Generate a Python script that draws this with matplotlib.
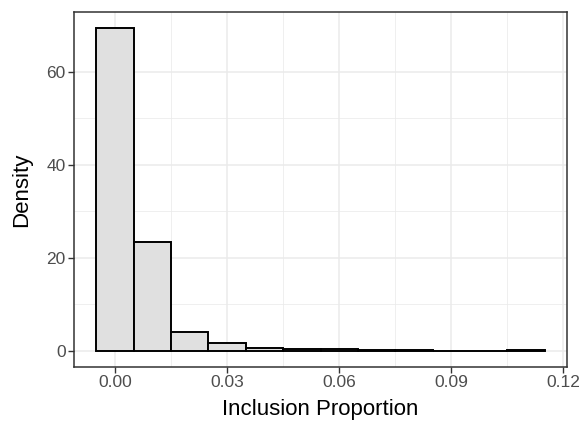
import numpy as np
import matplotlib
matplotlib.use('Agg')
import matplotlib.pyplot as plt

plt.rcParams['font.family'] = ['Liberation Sans', 'DejaVu Sans']

# histogram bins (width 0.01, centred on multiples of 0.01)
bin_centres = [0.00, 0.01, 0.02, 0.03, 0.04, 0.05, 0.06, 0.07, 0.08, 0.09, 0.10, 0.11]
density = [69.4, 23.4, 4.0, 1.65, 0.7, 0.3, 0.3, 0.15, 0.15, 0.05, 0.05, 0.2]
bin_width = 0.01

x_ticks = [0.00, 0.03, 0.06, 0.09, 0.12]
x_tick_labels = ['0.00', '0.03', '0.06', '0.09', '0.12']
y_ticks = [0, 20, 40, 60]

fig = plt.figure(figsize=(5.82, 4.23), dpi=100)
ax = fig.add_axes([74/582, 1 - 367/423, 493/582, 355/423])

ax.bar(bin_centres, density, width=bin_width, color='#e0e0e0',
       edgecolor='black', linewidth=1.4, zorder=3)

ax.set_xlim(-0.011, 0.121)
ax.set_ylim(-3.47, 72.9)

ax.set_xticks(x_ticks)
ax.set_xticklabels(x_tick_labels)
ax.set_yticks(y_ticks)
ax.set_xticks([0.015, 0.045, 0.075, 0.105], minor=True)
ax.set_yticks([10, 30, 50], minor=True)

ax.grid(which='major', color='#ebebeb', linewidth=1.1, zorder=0)
ax.grid(which='minor', color='#ebebeb', linewidth=0.55, zorder=0)
ax.tick_params(which='minor', length=0)
ax.tick_params(which='major', length=4, width=1, color='#333333',
               labelcolor='#4d4d4d', labelsize=12.5, pad=2)

for sp in ax.spines.values():
    sp.set_color('#333333')
    sp.set_linewidth(1.1)

ax.set_xlabel('Inclusion Proportion', fontsize=16, labelpad=6)
ax.set_ylabel('Density', fontsize=16, labelpad=10)

fig.savefig('out.png', dpi=100)
